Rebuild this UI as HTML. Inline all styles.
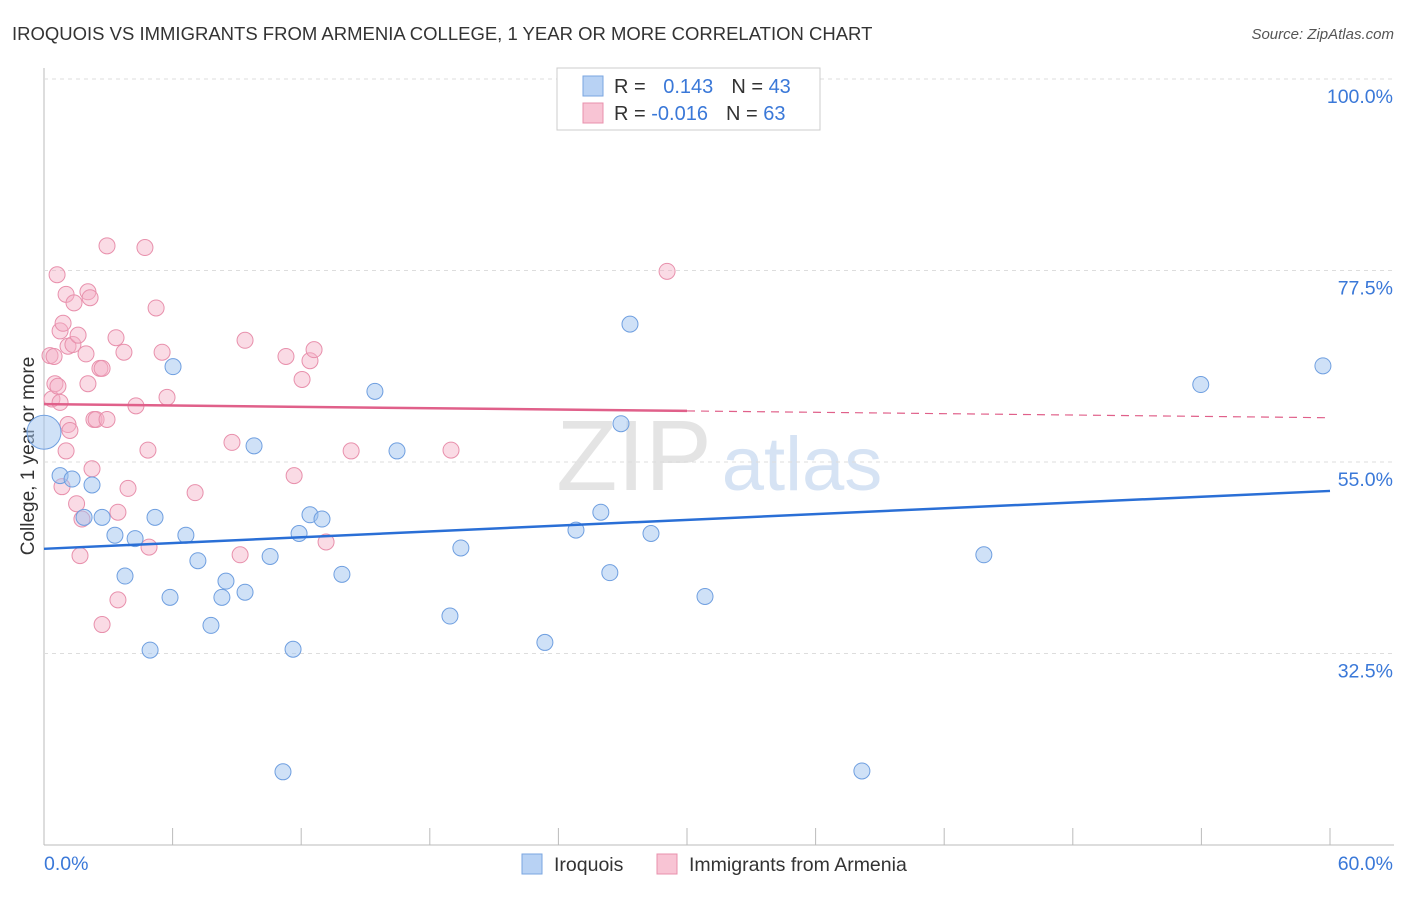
<!DOCTYPE html>
<html><head><meta charset="utf-8"><style>
body{margin:0;background:#fff;font-family:"Liberation Sans",sans-serif}
svg text{font-family:"Liberation Sans",sans-serif}
</style></head><body>
<svg width="1406" height="892" id="c">
<text x="12" y="40" font-size="18.5" fill="#333">IROQUOIS VS IMMIGRANTS FROM ARMENIA COLLEGE, 1 YEAR OR MORE CORRELATION CHART</text>
<text x="1394" y="39" font-size="15" fill="#555" text-anchor="end" font-style="italic">Source: ZipAtlas.com</text>
<text x="34" y="456" font-size="19" fill="#333" text-anchor="middle" transform="rotate(-90 34 456)">College, 1 year or more</text>
<text x="634" y="490" font-size="100" fill="#e4e4e4" font-family="Liberation Serif" text-anchor="middle">ZIP</text>
<text x="802" y="490" font-size="76" fill="#d6e3f4" text-anchor="middle">atlas</text>
<g id="grid"></g><g id="marks"></g>
<g>
<rect x="557" y="68" width="263" height="62" fill="#fff" stroke="#ccc"/>
<rect x="583" y="76" width="20" height="20" fill="#b8d2f4" stroke="#7aa6e0"/>
<rect x="583" y="103" width="20" height="20" fill="#f8c4d4" stroke="#e890ac"/>
<text x="614" y="93" font-size="20" fill="#333">R = <tspan fill="#3a78d8" dx="12">0.143</tspan><tspan dx="18" fill="#333">N = </tspan><tspan fill="#3a78d8">43</tspan></text>
<text x="614" y="120" font-size="20" fill="#333">R = <tspan fill="#3a78d8">-0.016</tspan><tspan dx="18" fill="#333">N = </tspan><tspan fill="#3a78d8">63</tspan></text>
</g>
<g>
<rect x="522" y="854" width="20" height="20" fill="#b8d2f4" stroke="#7aa6e0"/>
<text x="554" y="871" font-size="19.5" fill="#333">Iroquois</text>
<rect x="657" y="854" width="20" height="20" fill="#f8c4d4" stroke="#e890ac"/>
<text x="689" y="871" font-size="19.5" fill="#333">Immigrants from Armenia</text>
</g>
</svg>
<script>
const xTicks=[0,6,12,18,24,30,36,42,48,54,60];
const yTicks=[32.5,55.0,77.5,100.0];
const blueX=[0,0.75,1.31,2.24,1.87,2.71,3.31,3.78,4.25,4.95,5.18,5.88,6.02,6.62,7.18,7.79,8.3,8.49,9.38,9.8,10.55,11.15,11.62,11.9,12.41,12.97,13.9,15.44,16.47,18.94,19.45,23.37,24.82,25.98,26.4,26.92,27.34,28.32,30.84,38.16,43.85,53.97,59.67];
const blueY=[58.5,53.4,53.0,52.3,48.5,48.5,46.4,41.6,46.0,32.9,48.5,39.1,66.2,46.4,43.4,35.8,39.1,41.0,39.7,56.9,43.9,18.6,33.0,46.6,48.8,48.3,41.8,63.3,56.3,36.9,44.9,33.8,47.0,49.1,42.0,59.5,71.2,46.6,39.2,18.7,44.1,64.1,66.3];
const pinkX=[0.28,0.51,0.61,0.37,0.47,0.65,0.75,0.84,0.75,0.89,1.03,1.03,1.12,1.21,1.12,1.35,1.4,1.52,1.59,1.68,1.77,1.96,2.05,2.05,2.15,2.24,2.33,2.43,2.61,2.71,2.94,2.94,3.36,3.45,3.45,3.73,3.92,4.29,4.71,4.85,4.9,5.23,5.51,5.74,7.05,8.77,9.15,9.38,11.29,11.67,12.04,12.41,12.6,13.16,14.33,18.99,29.07,2.71];
const pinkY=[67.5,64.2,77.0,62.4,67.4,63.9,62.0,52.1,70.4,71.3,74.7,56.3,59.4,58.7,68.6,68.8,73.7,50.1,69.9,44.0,48.3,67.7,64.2,75.0,74.3,54.2,60.0,60.0,66.0,66.0,60.0,80.4,69.6,49.1,38.8,67.9,51.9,61.6,80.2,56.4,45.0,73.1,67.9,62.6,51.4,57.3,44.1,69.3,67.4,53.4,64.7,66.9,68.2,45.6,56.3,56.4,77.4,35.9];
const blueTrend=[44.8,51.6];
const pinkTrendSolid=[61.8,30,61.0];
const pinkTrendEnd=60.2;
const X=v=>44+v/60*1286, Y=v=>462-(v-55)*191.5/22.5;
const NS='http://www.w3.org/2000/svg';
const grid=document.getElementById('grid'), marks=document.getElementById('marks');
function mk(tag,attrs,parent){const e=document.createElementNS(NS,tag);for(const k in attrs)e.setAttribute(k,attrs[k]);parent.appendChild(e);return e;}
let l=mk('line',{x1:44,y1:68,x2:44,y2:845,stroke:'#bbb'},grid);


l=mk('line',{x1:44,y1:845,x2:1394,y2:845,stroke:'#bbb'},grid);


xTicks.forEach(t=>{const e=mk('line',{x1:X(t),y1:828,x2:X(t),y2:845,stroke:'#bbb'},grid);

});
yTicks.forEach(t=>{const e=mk('line',{x1:44,y1:Y(t),x2:1394,y2:Y(t),stroke:'#ddd','stroke-dasharray':'4 4'},grid);


const tx=mk('text',{x:1393,y:Y(t)+24,'font-size':19.5,fill:'#3a78d8','text-anchor':'end'},grid);
tx.textContent=t.toFixed(1)+'%';

});
let t0=mk('text',{x:44,y:870,'font-size':19.5,fill:'#3a78d8'},grid);t0.textContent='0.0%';


t0=mk('text',{x:1393,y:870,'font-size':19.5,fill:'#3a78d8','text-anchor':'end'},grid);t0.textContent='60.0%';


pinkX.forEach((x,i)=>{const c=mk('circle',{cx:X(x),cy:Y(pinkY[i]),r:8,fill:'rgba(245,175,198,0.45)',stroke:'#e890ac','stroke-width':1},marks);

});
blueX.forEach((x,i)=>{const c=mk('circle',{cx:X(x),cy:Y(blueY[i]),r:i==0?17:8,fill:'rgba(160,195,240,0.5)',stroke:'#6f9fe0','stroke-width':1},marks);

});
l=mk('line',{x1:X(0),y1:Y(blueTrend[0]),x2:X(60),y2:Y(blueTrend[1]),stroke:'#2a6fd6','stroke-width':2.5},marks);


l=mk('line',{x1:X(0),y1:Y(pinkTrendSolid[0]),x2:X(pinkTrendSolid[1]),y2:Y(pinkTrendSolid[2]),stroke:'#e0608a','stroke-width':2.5},marks);


l=mk('line',{x1:X(pinkTrendSolid[1]),y1:Y(pinkTrendSolid[2]),x2:X(60),y2:Y(pinkTrendEnd),stroke:'#e0608a','stroke-width':1.2,'stroke-dasharray':'8 6'},marks);


</script>
</body></html>
